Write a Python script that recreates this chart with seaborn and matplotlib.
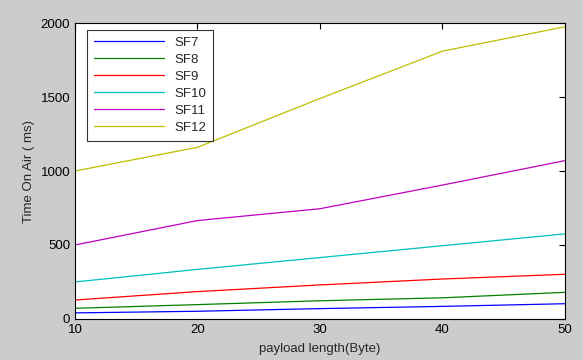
import pandas as pd
import seaborn as sns
import matplotlib.pyplot as plt

sns.set_theme(style="white")
plt.rcParams['font.family'] = ['Liberation Sans', 'DejaVu Sans']

payload = [10, 20, 30, 40, 50]
sf7 = [41, 52, 70, 85, 103]
sf8 = [72, 97, 123, 143, 180]
sf9 = [128, 185, 230, 270, 302]
sf10 = [250, 335, 415, 495, 575]
sf11 = [500, 665, 745, 905, 1070]
sf12 = [1000, 1160, 1490, 1810, 1975]

series = {"SF7": sf7, "SF8": sf8, "SF9": sf9, "SF10": sf10, "SF11": sf11, "SF12": sf12}
colors = ["#0000ff", "#008000", "#ff0000", "#00bfbf", "#bf00bf", "#bfbf00"]

df = pd.concat(
    [pd.DataFrame({"payload": payload, "toa": v, "sf": k}) for k, v in series.items()]
)

fig = plt.figure(figsize=(5.83, 3.6), dpi=100, facecolor="#cccccc")
ax = fig.add_axes([0.1286, 0.114, 0.8405, 0.822])
ax.set_facecolor("white")

sns.lineplot(data=df, x="payload", y="toa", hue="sf", palette=colors,
             linewidth=0.9, ax=ax)

ax.set_xlim(10, 50)
ax.set_ylim(0, 2000)
ax.set_xticks(payload)
ax.set_yticks([0, 500, 1000, 1500, 2000])
ax.tick_params(direction="in", length=4, width=0.8, labelsize=9.5,
               top=True, right=True, colors="black")
for s in ax.spines.values():
    s.set_color("black")
    s.set_linewidth(0.8)

ax.set_xlabel("payload length(Byte)", fontsize=9.5, labelpad=5)
ax.set_ylabel("Time On Air ( ms)", fontsize=9.5, labelpad=4)

leg = ax.legend(loc="upper left", bbox_to_anchor=(0.0245, 0.976), frameon=True,
                fancybox=False, edgecolor="black", fontsize=9.5, handlelength=5.3,
                labelspacing=0.36, borderpad=0.5, borderaxespad=0)
leg.get_frame().set_linewidth(0.8)

plt.savefig("out.png", dpi=100, facecolor=fig.get_facecolor())
plt.close()
